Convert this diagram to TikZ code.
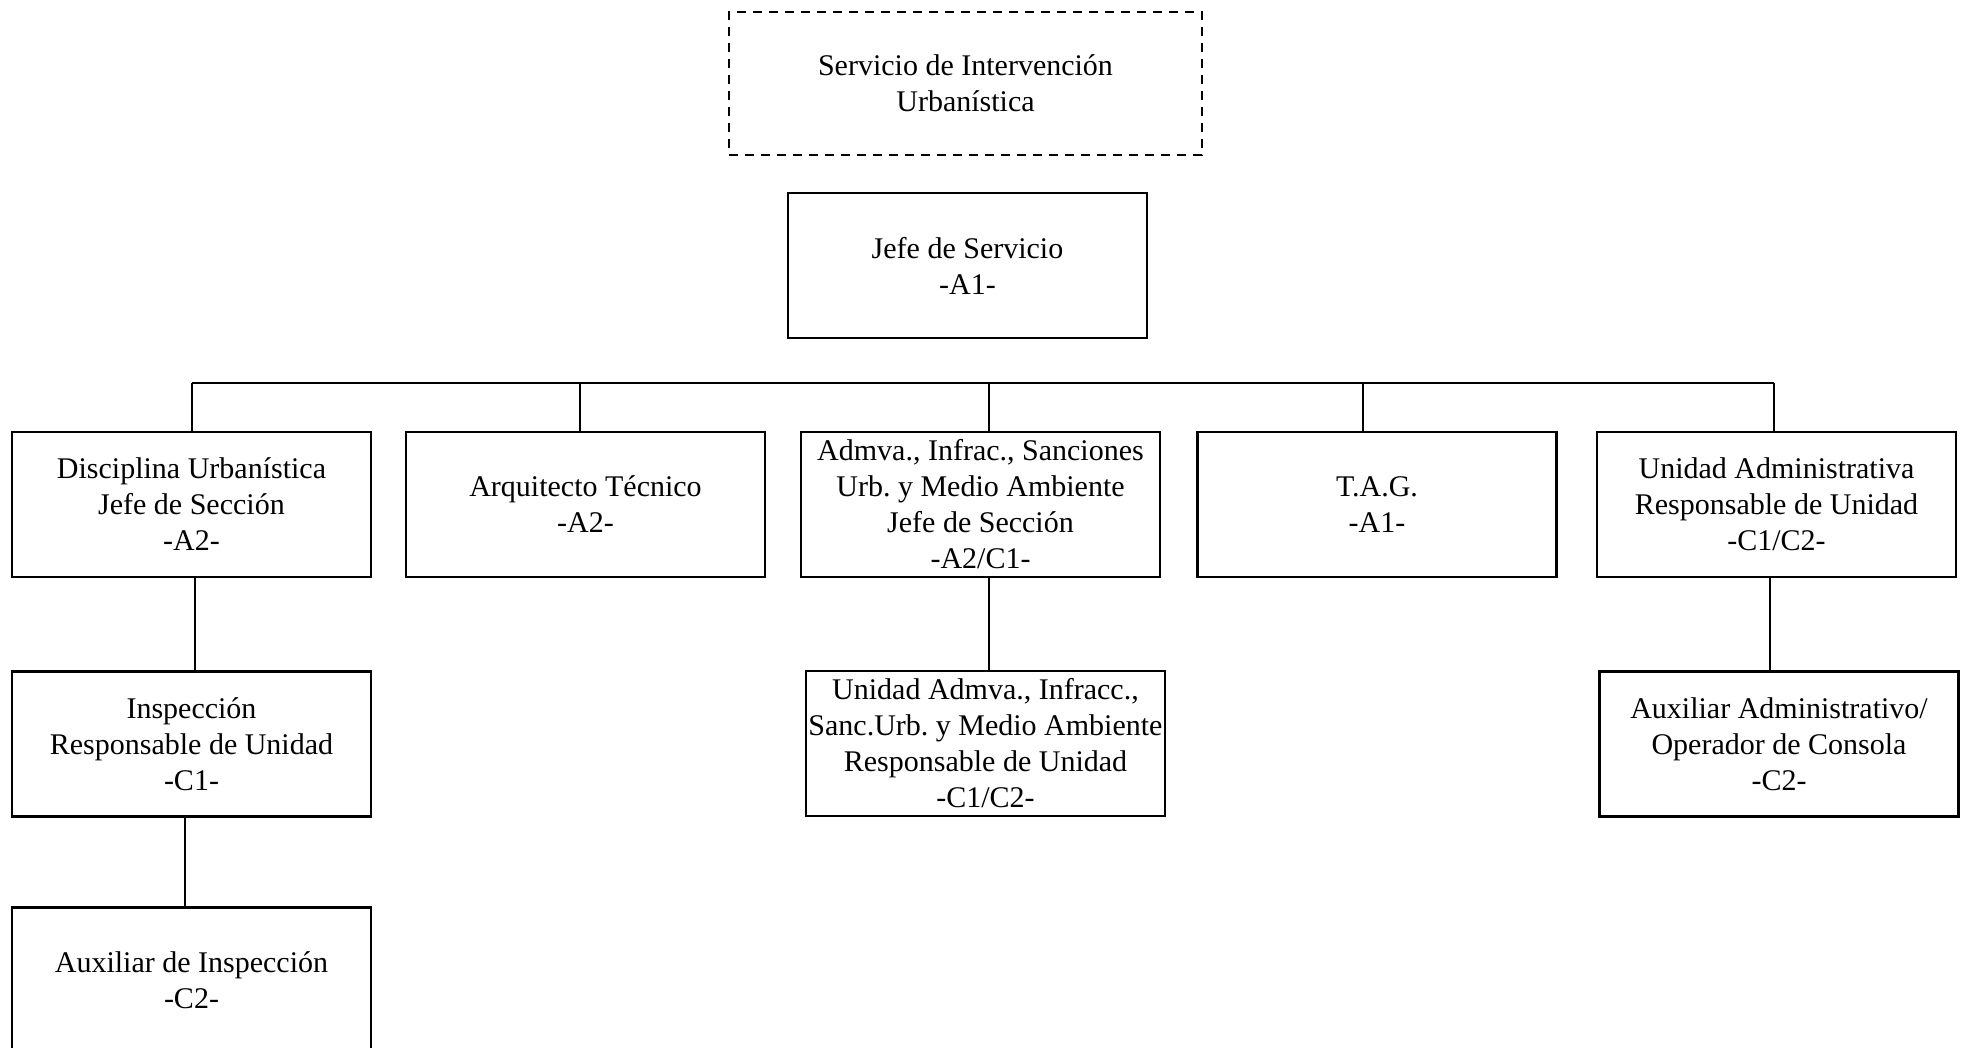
\documentclass[tikz,border=0pt]{standalone}
\usepackage{fontspec}
\setmainfont{Liberation Serif}
\frenchspacing
\begin{document}
\begin{tikzpicture}[x=0.5pt,y=-0.5pt,
  box/.style={draw, line width=1.25pt, rectangle, inner sep=0pt, align=center,
    minimum width=179.5pt, minimum height=72.5pt,
    font=\fontsize{15}{18}\selectfont\frenchspacing},
  dbox/.style={box, dashed, line width=1pt, dash pattern=on 4.5pt off 3.5pt,
    minimum width=236.5pt, minimum height=71.5pt},
  link/.style={draw, line width=0.7pt}]
\useasboundingbox (0,0) rectangle (1965,1048);
\node[dbox] (srv) at (965.5,83.5) {Servicio de Intervención\\Urbanística};
\node[box] (jefe) at (967.5,265.5) {Jefe de Servicio\\-A1-};
% row 1
\node[box] (d) at (191.5,504.5) {Disciplina Urbanística\\Jefe de Sección\\-A2-};
\node[box] (a) at (585.5,504.5) {Arquitecto Técnico\\-A2-};
\node[box] (ad) at (980.5,504.5) {Admva., Infrac., Sanciones\\Urb. y Medio Ambiente\\Jefe de Sección\\-A2/C1-};
\node[box] (t) at (1377,504.5) {T.A.G.\\-A1-};
\node[box] (u) at (1776.5,504.5) {Unidad Administrativa\\Responsable de Unidad\\-C1/C2-};
% row 2
\node[box] (i) at (191.5,744) {Inspección\\Responsable de Unidad\\-C1-};
\node[box] (ua) at (985.5,743.5) {Unidad Admva., Infracc.,\\Sanc.Urb. y Medio Ambiente\\Responsable de Unidad\\-C1/C2-};
\node[box] (aa) at (1779,744) {Auxiliar Administrativo/\\Operador de Consola\\-C2-};
% row 3
\node[box] (ai) at (191.5,980) {Auxiliar de Inspección\\-C2-};
% bus
\coordinate (b1) at (192,383);
\coordinate (b2) at (580,383);
\coordinate (b3) at (989,383);
\coordinate (b4) at (1363,383);
\coordinate (b5) at (1774,383);
\draw[link] (b1) -- (b5);
\draw[link] (b1) -- (b1 |- d.north);
\draw[link] (b2) -- (b2 |- a.north);
\draw[link] (b3) -- (b3 |- ad.north);
\draw[link] (b4) -- (b4 |- t.north);
\draw[link] (b5) -- (b5 |- u.north);
% lower links
\draw[link] ([xshift=1.75pt]d.south) -- ([xshift=1.75pt]d.south |- i.north);
\draw[link] ([xshift=4.25pt]ad.south) -- ([xshift=4.25pt]ad.south |- ua.north);
\draw[link] ([xshift=-3.25pt]u.south) -- ([xshift=-3.25pt]u.south |- aa.north);
\draw[link] ([xshift=-3.25pt]i.south) -- ([xshift=-3.25pt]i.south |- ai.north);
\end{tikzpicture}
\end{document}
